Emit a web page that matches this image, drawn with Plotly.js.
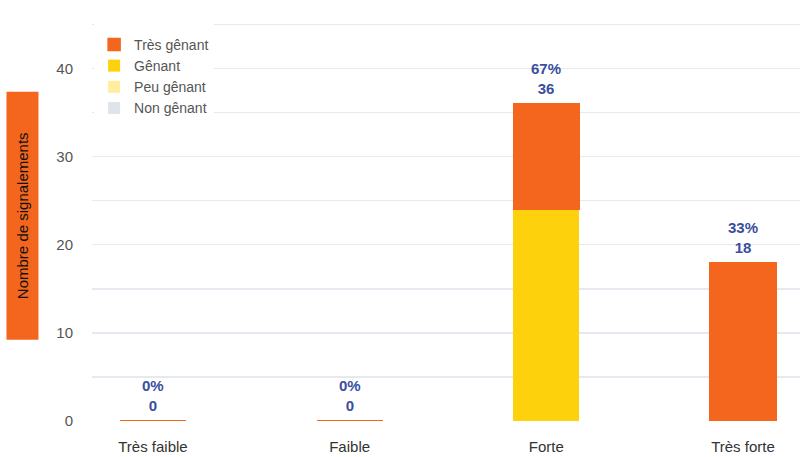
<!DOCTYPE html>
<html>
<head>
<meta charset="utf-8">
<script src="https://cdn.plot.ly/plotly-3.0.1.min.js"></script>
<style>
html,body{margin:0;padding:0;background:#fff;}
#topline{position:absolute;left:0;top:2px;width:800px;height:3px;background:#dcdcdc;border-bottom:1px solid #ececec;}
#chart{width:800px;height:457px;}
</style>
</head>
<body>
<div id="topline"></div>
<div id="chart"></div>
<script>
var categories = ["Très faible", "Faible", "Forte", "Très forte"];
var nonGenant = [0, 0, 0, 0];
var peuGenant = [0, 0, 0, 0];
var genant = [0, 0, 24, 0];
var tresGenant = [0, 0, 12, 18];
var yTicks = [0, 10, 20, 30, 40];

var colors = {
  tres: "#F4661E",
  genant: "#FDD20D",
  peu: "#FFEE9E",
  non: "#DFE3EA"
};

var totals = categories.map(function(c, i){ return nonGenant[i] + peuGenant[i] + genant[i] + tresGenant[i]; });
var grand = totals.reduce(function(a, b){ return a + b; }, 0);

function barTrace(name, vals, color){
  return {
    type: "bar", name: name, x: categories, y: vals,
    width: 0.336,
    marker: {color: color, line: {width: 0}},
    hoverinfo: "none"
  };
}

var data = [
  barTrace("Non gênant", nonGenant, colors.non),
  barTrace("Peu gênant", peuGenant, colors.peu),
  barTrace("Gênant", genant, colors.genant),
  barTrace("Très gênant", tresGenant, colors.tres)
];
data[3].marker.line = {width: 1.5, color: colors.tres};

var FONT = "Liberation Sans, Arial, sans-serif";

var annotations = categories.map(function(c, i){
  return {
    x: c, y: totals[i], xref: "x", yref: "y",
    text: Math.round(totals[i] / grand * 100) + "%<br>" + totals[i],
    showarrow: false, yanchor: "bottom", yshift: 5,
    font: {family: FONT, size: 15, color: "#3A4E9E", weight: "bold"}
  };
});
annotations.push({
  xref: "paper", yref: "paper", x: -0.098, y: 0.516,
  text: "Nombre de signalements", textangle: -90, showarrow: false,
  bgcolor: colors.tres, width: 245, height: 29,
  xanchor: "center", yanchor: "middle",
  font: {family: FONT, size: 15, color: "#111"}
});

var layout = {
  width: 800, height: 457,
  margin: {l: 92, r: 0, t: 23, b: 36},
  paper_bgcolor: "#fff", plot_bgcolor: "#fff",
  barmode: "stack",
  font: {family: FONT, size: 14, color: "#555"},
  xaxis: {
    type: "category", range: [-0.31, 3.29],
    showgrid: false, zeroline: false, showline: false,
    ticks: "", ticklabelstandoff: 15,
    tickfont: {size: 15, color: "#333"}
  },
  yaxis: {
    range: [0, 45.2], tickvals: yTicks, ticktext: yTicks.map(String),
    showgrid: false, zeroline: false, showline: false,
    ticks: "", ticklabelstandoff: 18,
    tickfont: {size: 15, color: "#555"},
    minor: {dtick: 5, tick0: 0, showgrid: true, gridcolor: "#E6E9EF", gridwidth: 1.2}
  },
  legend: {
    x: 0.003, y: 1.005, xanchor: "left", yanchor: "top",
    bgcolor: "#fff", traceorder: "reversed",
    font: {size: 14, color: "#555"},
    title: {text: " ", font: {size: 6}},
    tracegroupgap: 0, itemclick: false
  },
  showlegend: true,
  annotations: annotations
};

Plotly.newPlot("chart", data, layout, {displayModeBar: false, staticPlot: true});
</script>
</body>
</html>
